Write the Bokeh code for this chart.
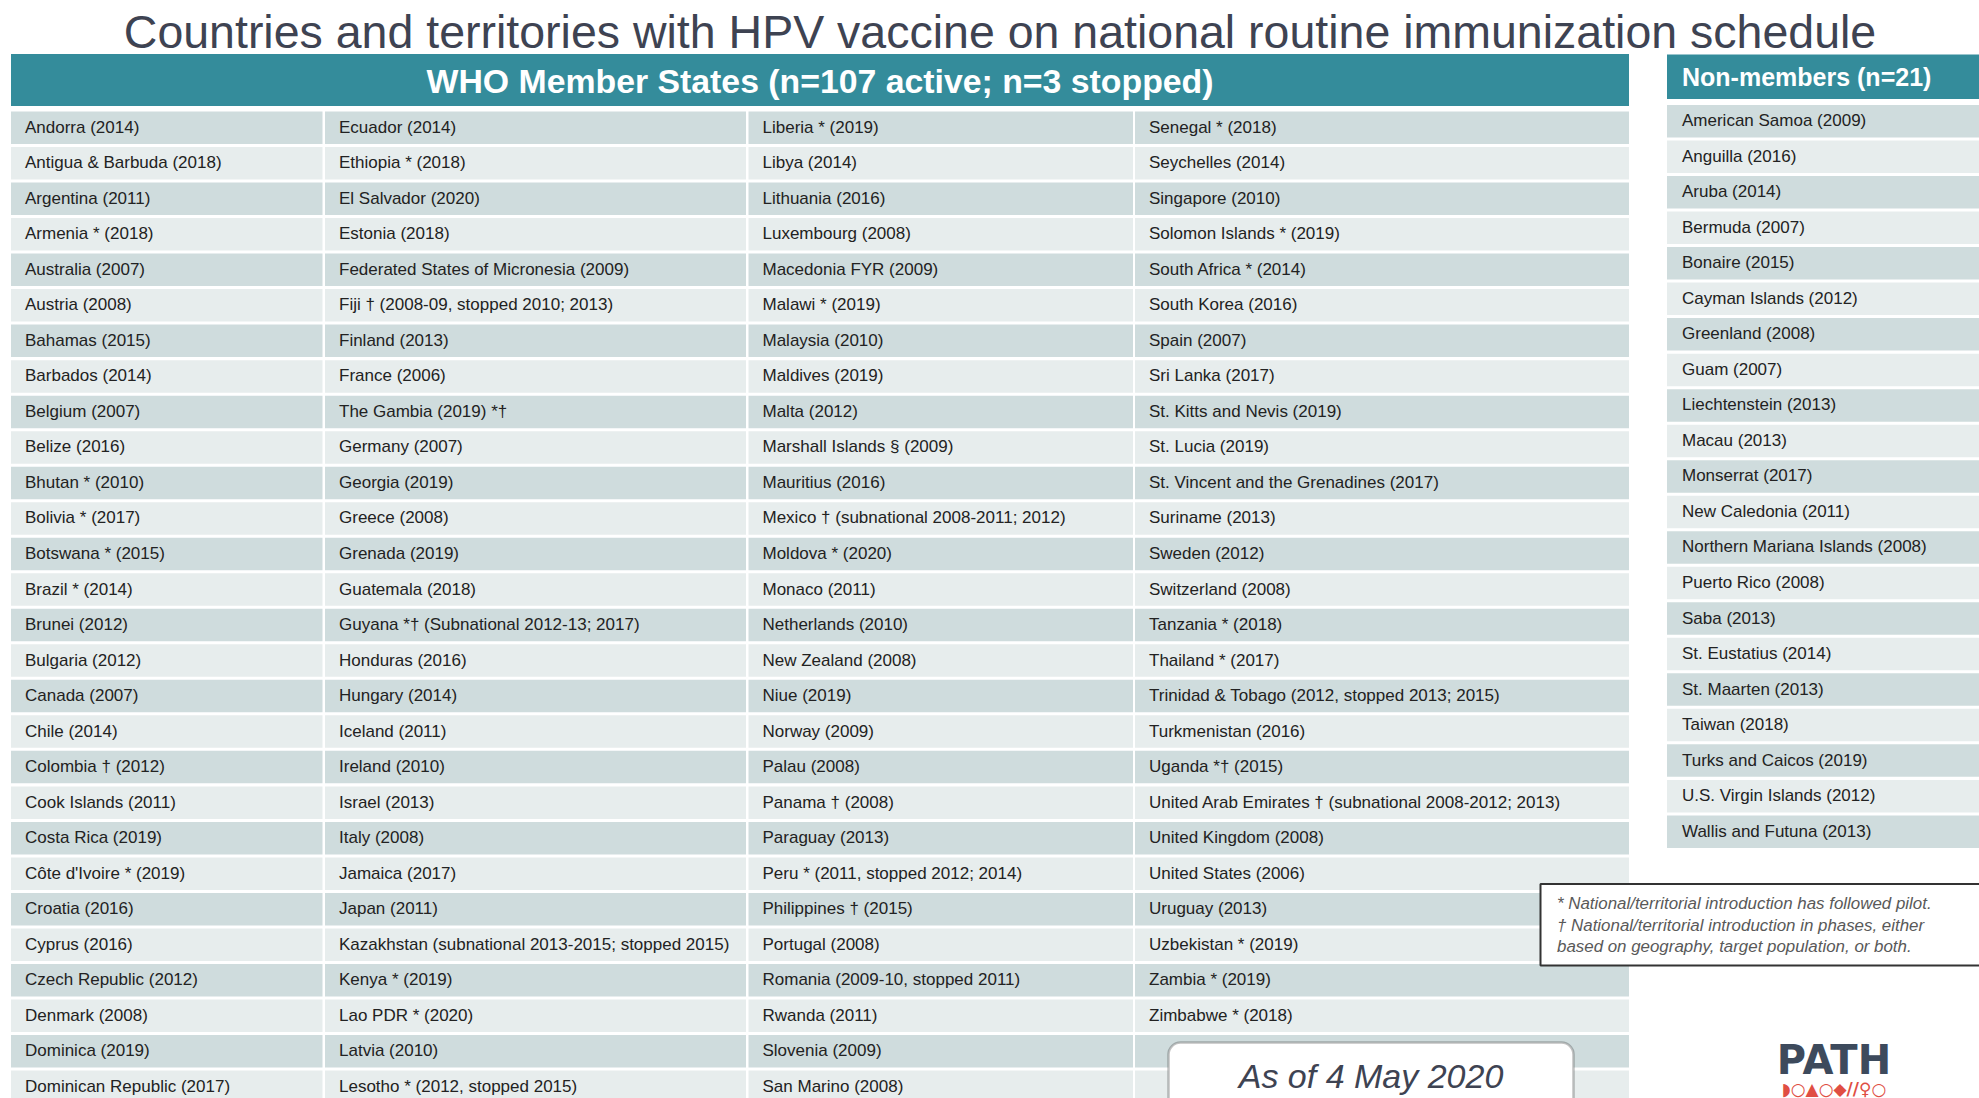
from bokeh.plotting import figure
from bokeh.models import Range1d, ColumnDataSource, BoxAnnotation
from bokeh.core.properties import value
from bokeh.embed import file_html
from bokeh.resources import INLINE

# ---------------- data ----------------
title = "Countries and territories with HPV vaccine on national routine immunization schedule"
member_header = "WHO Member States (n=107 active; n=3 stopped)"
nonmember_header = "Non-members (n=21)"

col1 = ["Andorra (2014)", "Antigua & Barbuda (2018)", "Argentina (2011)", "Armenia * (2018)",
        "Australia (2007)", "Austria (2008)", "Bahamas (2015)", "Barbados (2014)", "Belgium (2007)",
        "Belize (2016)", "Bhutan * (2010)", "Bolivia * (2017)", "Botswana * (2015)", "Brazil * (2014)",
        "Brunei (2012)", "Bulgaria (2012)", "Canada (2007)", "Chile (2014)", "Colombia \u2020 (2012)",
        "Cook Islands (2011)", "Costa Rica (2019)", "C\u00f4te d'Ivoire * (2019)", "Croatia (2016)",
        "Cyprus (2016)", "Czech Republic (2012)", "Denmark (2008)", "Dominica (2019)",
        "Dominican Republic (2017)"]
col2 = ["Ecuador (2014)", "Ethiopia * (2018)", "El Salvador (2020)", "Estonia (2018)",
        "Federated States of Micronesia (2009)", "Fiji \u2020 (2008-09, stopped 2010; 2013)",
        "Finland (2013)", "France (2006)", "The Gambia (2019) *\u2020", "Germany (2007)",
        "Georgia (2019)", "Greece (2008)", "Grenada (2019)", "Guatemala (2018)",
        "Guyana *\u2020 (Subnational 2012-13; 2017)", "Honduras (2016)", "Hungary (2014)",
        "Iceland (2011)", "Ireland (2010)", "Israel (2013)", "Italy (2008)", "Jamaica (2017)",
        "Japan (2011)", "Kazakhstan (subnational 2013-2015; stopped 2015)", "Kenya * (2019)",
        "Lao PDR * (2020)", "Latvia (2010)", "Lesotho * (2012, stopped 2015)"]
col3 = ["Liberia * (2019)", "Libya (2014)", "Lithuania (2016)", "Luxembourg (2008)",
        "Macedonia FYR (2009)", "Malawi * (2019)", "Malaysia (2010)", "Maldives (2019)",
        "Malta (2012)", "Marshall Islands \u00a7 (2009)", "Mauritius (2016)",
        "Mexico \u2020 (subnational 2008-2011; 2012)", "Moldova * (2020)", "Monaco (2011)",
        "Netherlands (2010)", "New Zealand (2008)", "Niue (2019)", "Norway (2009)", "Palau (2008)",
        "Panama \u2020 (2008)", "Paraguay (2013)", "Peru * (2011, stopped 2012; 2014)",
        "Philippines \u2020 (2015)", "Portugal (2008)", "Romania (2009-10, stopped 2011)",
        "Rwanda (2011)", "Slovenia (2009)", "San Marino (2008)"]
col4 = ["Senegal * (2018)", "Seychelles (2014)", "Singapore (2010)", "Solomon Islands * (2019)",
        "South Africa * (2014)", "South Korea (2016)", "Spain (2007)", "Sri Lanka (2017)",
        "St. Kitts and Nevis (2019)", "St. Lucia (2019)", "St. Vincent and the Grenadines (2017)",
        "Suriname (2013)", "Sweden (2012)", "Switzerland (2008)", "Tanzania * (2018)",
        "Thailand * (2017)", "Trinidad & Tobago (2012, stopped 2013; 2015)", "Turkmenistan (2016)",
        "Uganda *\u2020 (2015)", "United Arab Emirates \u2020 (subnational 2008-2012; 2013)",
        "United Kingdom (2008)", "United States (2006)", "Uruguay (2013)", "Uzbekistan * (2019)",
        "Zambia * (2019)", "Zimbabwe * (2018)", "", ""]
nonmembers = ["American Samoa (2009)", "Anguilla (2016)", "Aruba (2014)", "Bermuda (2007)",
              "Bonaire (2015)", "Cayman Islands (2012)", "Greenland (2008)", "Guam (2007)",
              "Liechtenstein (2013)", "Macau (2013)", "Monserrat (2017)", "New Caledonia (2011)",
              "Northern Mariana Islands (2008)", "Puerto Rico (2008)", "Saba (2013)",
              "St. Eustatius (2014)", "St. Maarten (2013)", "Taiwan (2018)",
              "Turks and Caicos (2019)", "U.S. Virgin Islands (2012)", "Wallis and Futuna (2013)"]
footnotes = ["* National/territorial introduction has followed pilot.",
             "\u2020 National/territorial introduction in phases, either",
             "based on geography, target population, or both."]
date_note = "As of 4 May 2020"
logo_word = "PATH"
logo_marks = "\u25d7\u25cb\u25b2\u25cb\u25c6//\u2640\u25cb"

# ---------------- layout (reference pixel space, y downward) ----------------
W, H = 1979, 1098
FONT = "Liberation Sans"
TEAL = "#348c9b"
DARK_ROW = "#cfdcdd"
LIGHT_ROW = "#e7eded"
TXT = "#222222"

col_left = [10.5, 324.5, 748.0, 1134.5]
col_right = [322.0, 745.5, 1132.5, 1628.5]
row0_top = 111.0
pitch = 35.52
band_h = 32.5
text_pad = 14.0

nm_left, nm_right = 1666.5, 1990.0
nm_row0_top = 104.5

p = figure(width=W, height=H, x_range=Range1d(0, W), y_range=Range1d(-H, 0),
           output_backend="svg", toolbar_location=None, min_border=0)
p.axis.visible = False
p.grid.visible = False
p.outline_line_color = None
p.background_fill_color = "white"
p.border_fill_color = "white"

def Y(v):
    return -v

# title
p.text(x=[999.5], y=[Y(31)], text=[title], text_font=value(FONT), text_font_size="46.5px",
       text_color="#3e4352", text_align="center", text_baseline="middle")

# member header
p.quad(left=[col_left[0]], right=[col_right[3]], top=[Y(53.5)], bottom=[Y(105.5)],
       fill_color=TEAL, line_color=None)
p.text(x=[(col_left[0] + col_right[3]) / 2], y=[Y(80)], text=[member_header],
       text_font=value(FONT), text_font_style="bold", text_font_size="33.8px",
       text_color="white", text_align="center", text_baseline="middle")

# member columns
for ci, col in enumerate([col1, col2, col3, col4]):
    n = len(col)
    tops = [row0_top + i * pitch for i in range(n)]
    src = ColumnDataSource(dict(
        left=[col_left[ci]] * n, right=[col_right[ci]] * n,
        top=[Y(t) for t in tops], bottom=[Y(t + band_h) for t in tops],
        color=[DARK_ROW if i % 2 == 0 else LIGHT_ROW for i in range(n)],
        x=[col_left[ci] + text_pad] * n, y=[Y(t + band_h / 2 - 0.5) for t in tops],
        label=col))
    p.quad(left="left", right="right", top="top", bottom="bottom", fill_color="color",
           line_color=None, source=src)
    p.text(x="x", y="y", text="label", source=src, text_font=value(FONT),
           text_font_size="17px", text_color=TXT, text_align="left", text_baseline="middle")

# non-member header
p.quad(left=[nm_left], right=[nm_right], top=[Y(54)], bottom=[Y(98.5)],
       fill_color=TEAL, line_color=None)
p.text(x=[nm_left + 15], y=[Y(76.5)], text=[nonmember_header], text_font=value(FONT),
       text_font_style="bold", text_font_size="25px", text_color="white",
       text_align="left", text_baseline="middle")

n = len(nonmembers)
tops = [nm_row0_top + i * pitch for i in range(n)]
src = ColumnDataSource(dict(
    left=[nm_left] * n, right=[nm_right] * n,
    top=[Y(t) for t in tops], bottom=[Y(t + band_h) for t in tops],
    color=[DARK_ROW if i % 2 == 0 else LIGHT_ROW for i in range(n)],
    x=[nm_left + 15] * n, y=[Y(t + band_h / 2 - 0.5) for t in tops], label=nonmembers))
p.quad(left="left", right="right", top="top", bottom="bottom", fill_color="color",
       line_color=None, source=src)
p.text(x="x", y="y", text="label", source=src, text_font=value(FONT), text_font_size="17px",
       text_color=TXT, text_align="left", text_baseline="middle")

# footnote box
p.quad(left=[1540], right=[1995], top=[Y(883.5)], bottom=[Y(965)], fill_color="white",
       line_color="#333333", line_width=2)
p.text(x=[1556.5] * 3, y=[Y(902.5), Y(925), Y(946)], text=footnotes, text_font=value(FONT),
       text_font_style="italic", text_font_size="16.9px", text_color="#595959",
       text_align="left", text_baseline="middle")

# date box (rounded)
p.add_layout(BoxAnnotation(left=1168, right=1573, top=Y(1042), bottom=Y(1130),
                           fill_color="white", fill_alpha=1.0, line_color="#333333",
                           line_width=2.5, border_radius=12, level="annotation"))
p.text(x=[1370.5], y=[Y(1075)], text=[date_note], text_font=value(FONT),
       text_font_style="italic", text_font_size="34px", text_color="#3e4352",
       text_align="center", text_baseline="middle", level="overlay")

# PATH logo
p.text(x=[1833.5], y=[Y(1059)], text=[logo_word], text_font=value("DejaVu Sans"),
       text_font_style="bold", text_font_size="40px", text_color="#3d4a5c",
       text_align="center", text_baseline="middle")
p.text(x=[1833.5], y=[Y(1088)], text=[logo_marks], text_font=value("DejaVu Sans"),
       text_font_style="bold", text_font_size="17px", text_color="#e04e43",
       text_align="center", text_baseline="middle")

open("out.html", "w").write(file_html(p, INLINE))
